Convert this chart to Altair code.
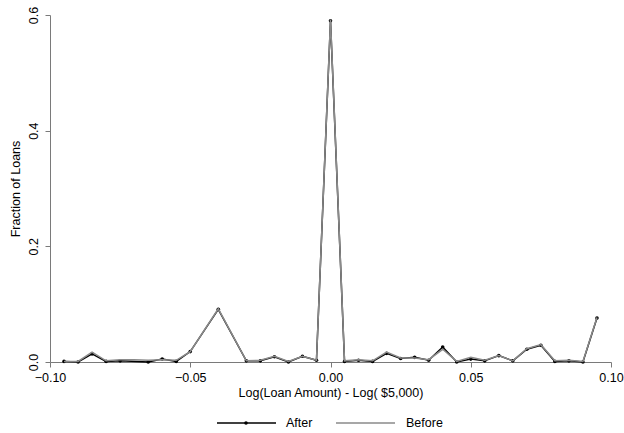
import altair as alt
import pandas as pd

# ---- data ----
x_after = [-0.095, -0.09, -0.085, -0.08, -0.075, -0.065, -0.06, -0.055, -0.05, -0.04,
           -0.03, -0.025, -0.02, -0.015, -0.01, -0.005, 0.0, 0.005, 0.01, 0.015,
           0.02, 0.025, 0.03, 0.035, 0.04, 0.045, 0.05, 0.055, 0.06, 0.065,
           0.07, 0.075, 0.08, 0.085, 0.09, 0.095]
after = [0.001, 0.0, 0.014, 0.001, 0.002, 0.0, 0.005, 0.001, 0.018, 0.091,
         0.002, 0.002, 0.009, 0.0, 0.010, 0.003, 0.590, 0.001, 0.003, 0.001,
         0.015, 0.006, 0.008, 0.003, 0.026, 0.0, 0.005, 0.002, 0.011, 0.002,
         0.022, 0.029, 0.001, 0.002, 0.0, 0.076]

x_before = [-0.095, -0.09, -0.085, -0.08, -0.075, -0.07, -0.065, -0.06, -0.055, -0.05, -0.04,
            -0.03, -0.025, -0.02, -0.015, -0.01, -0.005, 0.0, 0.005, 0.01, 0.015,
            0.02, 0.025, 0.03, 0.035, 0.04, 0.045, 0.05, 0.055, 0.06, 0.065,
            0.07, 0.075, 0.08, 0.085, 0.09, 0.095]
before = [0.001, 0.001, 0.017, 0.002, 0.004, 0.004, 0.003, 0.004, 0.003, 0.018, 0.092,
          0.002, 0.003, 0.010, 0.001, 0.010, 0.003, 0.592, 0.002, 0.004, 0.002,
          0.017, 0.007, 0.007, 0.004, 0.022, 0.001, 0.008, 0.003, 0.011, 0.002,
          0.023, 0.030, 0.002, 0.003, 0.001, 0.077]

x_ticks = [-0.10, -0.05, 0.0, 0.05, 0.10]
y_ticks = [0.0, 0.2, 0.4, 0.6]
legend_labels = ["After", "Before"]

FONT = "Liberation Sans"
FS = 12.5
AXIS_COLOR = "#7a7a7a"

df_after = pd.DataFrame({"x": x_after, "y": after})
df_before = pd.DataFrame({"x": x_before, "y": before})

xenc = alt.X(
    "x:Q",
    scale=alt.Scale(domain=[-0.1, 0.1], nice=False, zero=False),
    axis=alt.Axis(
        values=x_ticks, format=".2f", title="Log(Loan Amount) - Log( $5,000)",
        grid=False, tickSize=5, labelPadding=4, titlePadding=3,
        domainColor=AXIS_COLOR, tickColor=AXIS_COLOR, labelColor="black",
        titleColor="black", labelFont=FONT, titleFont=FONT, labelFontSize=FS,
        titleFontSize=FS, titleFontWeight="normal", labelFlush=False,
    ),
)
yenc = alt.Y(
    "y:Q",
    scale=alt.Scale(domain=[0, 0.6], nice=False),
    axis=alt.Axis(
        values=y_ticks, format=".1f", title="Fraction of Loans",
        grid=False, tickSize=5, labelPadding=5, titlePadding=5,
        labelAngle=270, labelAlign="center", labelBaseline="bottom",
        domainColor=AXIS_COLOR, tickColor=AXIS_COLOR, labelColor="black",
        titleColor="black", labelFont=FONT, titleFont=FONT, labelFontSize=FS,
        titleFontSize=FS, titleFontWeight="normal", labelFlush=False,
    ),
)

after_line = alt.Chart(df_after).mark_line(color="black", strokeWidth=1.5).encode(x=xenc, y=yenc)
after_pts = alt.Chart(df_after).mark_point(filled=True, color="black", size=13, opacity=1).encode(x="x:Q", y="y:Q")
before_line = alt.Chart(df_before).mark_line(color="#8a8a8a", strokeWidth=1.5).encode(x="x:Q", y="y:Q")

one = pd.DataFrame({"label": [legend_labels[0]]})
two = pd.DataFrame({"label": [legend_labels[1]]})
LY = 408
leg_a_rule = alt.Chart(one).mark_rule(color="black", strokeWidth=1.5).encode(
    x=alt.value(167), x2=alt.value(226), y=alt.value(LY))
leg_a_pt = alt.Chart(one).mark_point(filled=True, color="black", size=13, opacity=1).encode(
    x=alt.value(196), y=alt.value(LY))
leg_a_txt = alt.Chart(one).mark_text(align="left", baseline="middle", font=FONT, fontSize=FS, color="black").encode(
    x=alt.value(236), y=alt.value(LY), text="label:N")
leg_b_rule = alt.Chart(two).mark_rule(color="#8a8a8a", strokeWidth=1.5).encode(
    x=alt.value(286), x2=alt.value(345), y=alt.value(LY))
leg_b_txt = alt.Chart(two).mark_text(align="left", baseline="middle", font=FONT, fontSize=FS, color="black").encode(
    x=alt.value(356), y=alt.value(LY), text="label:N")

chart = alt.layer(
    after_line, after_pts, before_line,
    leg_a_rule, leg_a_pt, leg_a_txt, leg_b_rule, leg_b_txt,
).properties(
    width=561, height=347,
    autosize=alt.AutoSizeParams(type="none"),
    padding={"left": 50, "top": 15, "right": 13, "bottom": 71},
    background="white",
).configure_view(strokeWidth=0)

chart.save("out.html", embed_options={"renderer": "svg", "actions": False})
